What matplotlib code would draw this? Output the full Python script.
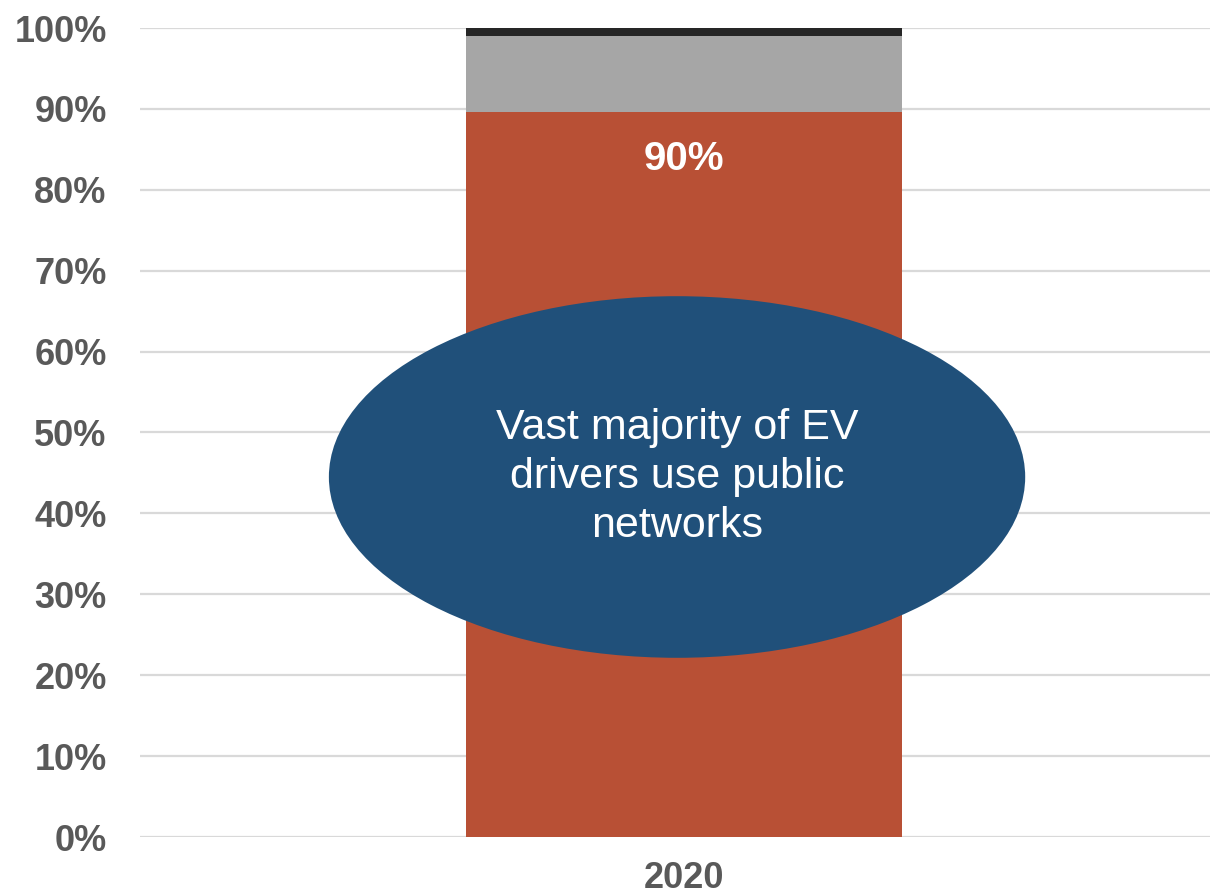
import matplotlib.pyplot as plt
from matplotlib.patches import Ellipse
from matplotlib.ticker import PercentFormatter

plt.rcParams['font.family'] = ['Liberation Sans', 'DejaVu Sans']

# ---------------------------------------
# Data
# ---------------------------------------

years = ["2020"]
public_share = [89.6]
other_share = [9.4]
unknown_share = [1.0]
bar_label = "90%"
note = "Vast majority of EV\ndrivers use public\nnetworks"

colors = ["#B85035", "#A6A6A6", "#262626"]
text_grey = "#595959"

# ---------------------------------------
# Plot
# ---------------------------------------

fig = plt.figure(figsize=(12.1, 8.96), dpi=100)
ax = fig.add_axes([140 / 1210, 59 / 896, 1088 / 1210, 809 / 896])

bottom = [0] * len(years)
for values, c in zip([public_share, other_share, unknown_share], colors):
    ax.bar(years, values, width=0.4, bottom=bottom, color=c, zorder=2)
    bottom = [b + v for b, v in zip(bottom, values)]

ax.text(0, public_share[0] - 5.8, bar_label, ha="center", va="center",
        color="white", fontsize=29, fontweight="bold", zorder=3)

ax.set_xlim(-0.5, 0.5)
ax.set_ylim(0, 100)
ax.set_yticks(range(0, 101, 10))
ax.yaxis.set_major_formatter(PercentFormatter(decimals=0))

ax.grid(axis="y", color="#D9D9D9", linewidth=1.6, zorder=0)
for s in ax.spines.values():
    s.set_visible(False)

ax.tick_params(axis="both", length=0, labelsize=26, labelcolor=text_grey)
ax.tick_params(axis="y", pad=24)
ax.tick_params(axis="x", pad=17)
for lbl in ax.get_xticklabels() + ax.get_yticklabels():
    lbl.set_fontweight("bold")

# callout ellipse
ell = Ellipse((0.4936, 0.445), 0.64, 0.447, transform=ax.transAxes,
              facecolor="#20507A", edgecolor="none", zorder=4)
ax.add_patch(ell)
ax.text(0.4936, 0.445, note, transform=ax.transAxes, ha="center",
        va="center", color="white", fontsize=31, linespacing=1.3, zorder=5)

fig.savefig("out.png", dpi=100)
